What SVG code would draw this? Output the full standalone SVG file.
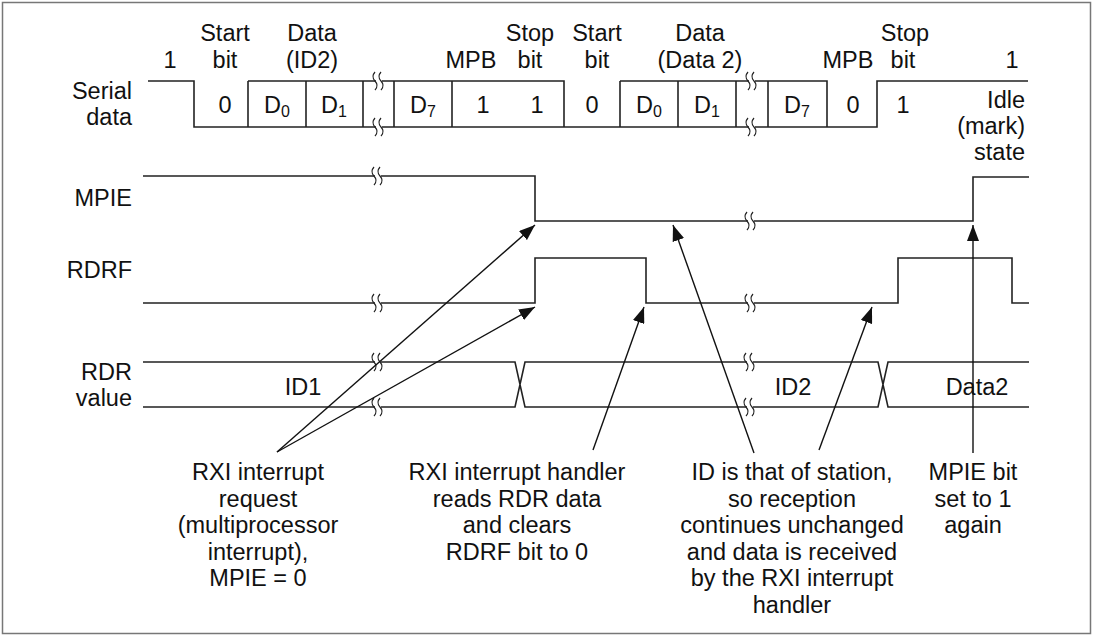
<svg xmlns="http://www.w3.org/2000/svg" xmlns:xlink="http://www.w3.org/1999/xlink" width="1094" height="637" viewBox="0 0 1094 637">
<style>
text{font-family:"Liberation Sans",Arial,sans-serif;font-size:23.5px;fill:#111}
.c{text-anchor:middle}
.r{text-anchor:end}
.sig{fill:none;stroke:#222;stroke-width:1.6}
.arr{fill:none;stroke:#111;stroke-width:1.4;marker-end:url(#ah)}
.brk path{fill:none;stroke:#222;stroke-width:1.2}
.s{font-size:16px}
</style>
<defs>
<marker id="ah" viewBox="0 0 16 12" refX="16" refY="6" markerWidth="16" markerHeight="12" markerUnits="userSpaceOnUse" orient="auto">
<path d="M0,0 L16,6 L0,12 z" fill="#111"/>
</marker>
<g id="brk" class="brk">
<rect x="-3" y="-4" width="6" height="8" fill="#fff"/>
<path d="M-4,-9 q-4,4.5 0,9 q4,4.5 0,9"/>
<path d="M2,-9 q-4,4.5 0,9 q4,4.5 0,9"/>
</g>
</defs>
<rect x="2.5" y="2.5" width="1088" height="631" fill="#fff" stroke="#777" stroke-width="1.5"/>

<g id="serial-data">
<path class="sig" d="M148,81 H194 V127 H736 M248,81 H564 V127 M248,81 V127 M306,81 V127 M363,81 V127 M394,81 V127 M452,81 V127 M620,81 H736 V127 M620,81 V127 M678,81 V127 M736,81 H768 M736,127 H768 M768,81 V127 M768,81 H827 V127 M768,127 H877 V81 H1028"/>
<use xlink:href="#brk" x="379" y="81"/>
<use xlink:href="#brk" x="379" y="127"/>
<use xlink:href="#brk" x="752" y="81"/>
<use xlink:href="#brk" x="752" y="127"/>
</g>

<g id="mpie-signal">
<path class="sig" d="M143,176 H535 V221 H973 V177 H1029"/>
<use xlink:href="#brk" x="378" y="176"/>
<use xlink:href="#brk" x="751" y="221"/>
</g>

<g id="rdrf-signal">
<path class="sig" d="M143,303 H535 V258 H646 V303 H898 V258 H1012 V303 H1029"/>
<use xlink:href="#brk" x="378" y="303"/>
<use xlink:href="#brk" x="751" y="303"/>
</g>

<g id="rdr-signal">
<path class="sig" d="M143,362 H515 L525,407 H878 L888,362 H1029 M143,407 H515 L525,362 H878 L888,407 H1029"/>
<use xlink:href="#brk" x="378" y="362"/>
<use xlink:href="#brk" x="378" y="407"/>
<use xlink:href="#brk" x="750" y="362"/>
<use xlink:href="#brk" x="750" y="407"/>
<text class="c" x="303" y="395">ID1</text>
<text class="c" x="793" y="395">ID2</text>
<text class="c" x="977" y="395">Data2</text>
</g>

<g id="signal-labels">
<text class="r" x="132" y="99">Serial</text>
<text class="r" x="132" y="125">data</text>
<text class="r" x="132" y="206">MPIE</text>
<text class="r" x="132" y="278">RDRF</text>
<text class="r" x="132" y="380">RDR</text>
<text class="r" x="132" y="406">value</text>
</g>

<g id="bit-labels">
<text class="c" x="170" y="68">1</text>
<text class="c" x="225" y="41">Start</text><text class="c" x="225" y="68">bit</text>
<text class="c" x="312" y="41">Data</text><text class="c" x="312" y="68">(ID2)</text>
<text class="c" x="471" y="68">MPB</text>
<text class="c" x="530" y="41">Stop</text><text class="c" x="530" y="68">bit</text>
<text class="c" x="597" y="41">Start</text><text class="c" x="597" y="68">bit</text>
<text class="c" x="700" y="41">Data</text><text class="c" x="700" y="68">(Data 2)</text>
<text class="c" x="848" y="68">MPB</text>
<text class="c" x="905" y="41">Stop</text><text class="c" x="903" y="68">bit</text>
<text class="c" x="1012" y="68">1</text>
<text class="r" x="1025" y="108">Idle</text>
<text class="r" x="1025" y="134">(mark)</text>
<text class="r" x="1025" y="160">state</text>
</g>

<g id="bit-values">
<text class="c" x="225" y="113">0</text>
<text class="c" x="277" y="113">D<tspan class="s" dy="4">0</tspan></text>
<text class="c" x="334" y="113">D<tspan class="s" dy="4">1</tspan></text>
<text class="c" x="423" y="113">D<tspan class="s" dy="4">7</tspan></text>
<text class="c" x="483" y="113">1</text>
<text class="c" x="537" y="113">1</text>
<text class="c" x="592" y="113">0</text>
<text class="c" x="649" y="113">D<tspan class="s" dy="4">0</tspan></text>
<text class="c" x="707" y="113">D<tspan class="s" dy="4">1</tspan></text>
<text class="c" x="797" y="113">D<tspan class="s" dy="4">7</tspan></text>
<text class="c" x="853" y="113">0</text>
<text class="c" x="903" y="113">1</text>
</g>

<g id="note-rxi-request">
<text class="c" x="258" y="480">RXI interrupt</text>
<text class="c" x="258" y="506.5">request</text>
<text class="c" x="258" y="533">(multiprocessor</text>
<text class="c" x="258" y="559.5">interrupt),</text>
<text class="c" x="258" y="586">MPIE = 0</text>
</g>

<g id="note-rxi-handler">
<text class="c" x="517" y="480">RXI interrupt handler</text>
<text class="c" x="517" y="506.5">reads RDR data</text>
<text class="c" x="517" y="533">and clears</text>
<text class="c" x="517" y="559.5">RDRF bit to 0</text>
</g>

<g id="note-id-station">
<text class="c" x="792" y="480">ID is that of station,</text>
<text class="c" x="792" y="506.5">so reception</text>
<text class="c" x="792" y="533">continues unchanged</text>
<text class="c" x="792" y="559.5">and data is received</text>
<text class="c" x="792" y="586">by the RXI interrupt</text>
<text class="c" x="792" y="612.5">handler</text>
</g>

<g id="note-mpie-set">
<text class="c" x="973" y="480">MPIE bit</text>
<text class="c" x="973" y="506.5">set to 1</text>
<text class="c" x="973" y="533">again</text>
</g>

<g id="connectors">
<line class="arr" x1="277" y1="452" x2="535" y2="225"/>
<line class="arr" x1="277" y1="452" x2="535" y2="307"/>
<line class="arr" x1="593" y1="450" x2="644" y2="307"/>
<line class="arr" x1="754" y1="453" x2="673" y2="225"/>
<line class="arr" x1="819" y1="450" x2="872" y2="307"/>
<line class="arr" x1="973" y1="453" x2="973" y2="225"/>
</g>
</svg>
